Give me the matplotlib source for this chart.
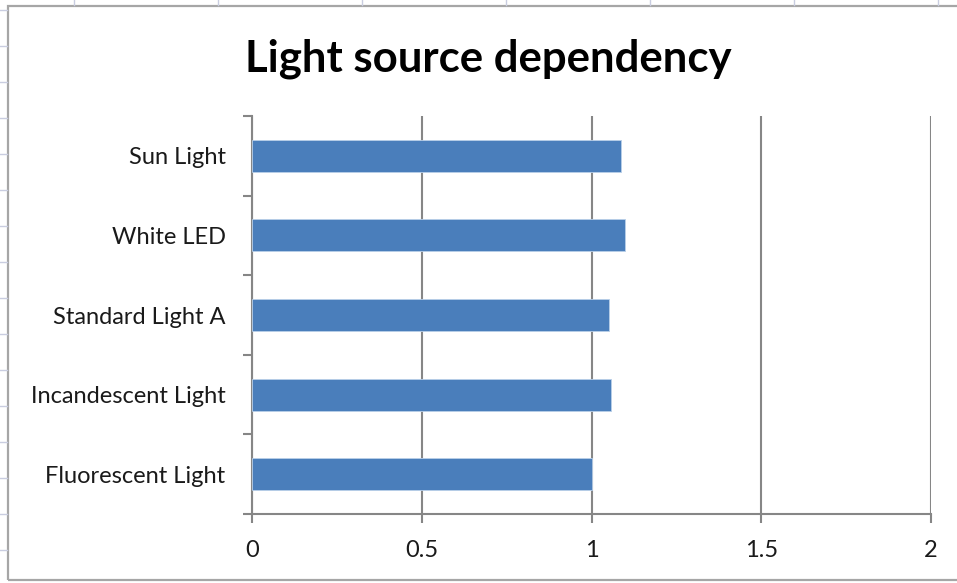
import matplotlib
matplotlib.use("Agg")
import matplotlib.pyplot as plt
from matplotlib.lines import Line2D
from matplotlib.patches import Rectangle

categories = ["Fluorescent Light", "Incandescent Light", "Standard Light A", "White LED", "Sun Light"]
values = [1.0, 1.057, 1.051, 1.098, 1.086]
x_ticks = [0, 0.5, 1, 1.5, 2]
x_tick_labels = ["0", "0.5", "1", "1.5", "2"]
title = "Light source dependency"

plt.rcParams["font.family"] = ["Lato", "DejaVu Sans"]

W, H = 957, 583
fig = plt.figure(figsize=(W / 100, H / 100), dpi=100)
fig.patch.set_facecolor("white")

# faint sheet grid marks around the chart frame
for x in range(74, W, 144):
    fig.add_artist(Line2D([x / W, x / W], [1 - 0 / H, 1 - 5 / H], color="#c9cde0", lw=1))
for y in range(10, H, 36):
    fig.add_artist(Line2D([0, 7 / W], [1 - y / H, 1 - y / H], color="#c9cde0", lw=1))

# chart frame
fig.add_artist(Rectangle((8 / W, 1 - 580 / H), 1.2, (580 - 6) / H,
                         transform=fig.transFigure, fill=False,
                         edgecolor="#a6a6a6", lw=1.6))

ax = fig.add_axes([252 / W, 1 - 514 / H, (931 - 252) / W, (514 - 116) / H])
pos = list(range(len(categories)))
ax.barh(pos, values, height=0.4, color="#4a7ebb", edgecolor="#b9cfe8", linewidth=0.6, zorder=3)

ax.set_xlim(0, 2)
ax.set_ylim(-0.5, len(categories) - 0.5)
ax.set_xticks(x_ticks)
ax.set_xticklabels(x_tick_labels)
ax.set_yticks(pos)
ax.set_yticklabels(categories)
ax.set_yticks([p - 0.5 for p in pos] + [len(categories) - 0.5], minor=True)

ax.grid(axis="x", color="#868686", lw=1.5, zorder=1)
for side in ("top", "right"):
    ax.spines[side].set_visible(False)
for side in ("left", "bottom"):
    ax.spines[side].set_color("#868686")
    ax.spines[side].set_linewidth(1.5)

ax.tick_params(axis="y", which="major", length=0, pad=19, labelsize=17, labelcolor="#1a1a1a")
ax.tick_params(axis="y", which="minor", length=6.5, width=1.5, color="#868686", direction="out")
ax.tick_params(axis="x", which="major", length=6.5, width=1.5, color="#868686",
               pad=12, labelsize=17, labelcolor="#1a1a1a")

fig.text(488 / W, 1 - 59 / H, title, ha="center", va="center",
         fontsize=31.5, fontweight="bold", color="black")

fig.savefig("out.png", dpi=100, facecolor="white")
